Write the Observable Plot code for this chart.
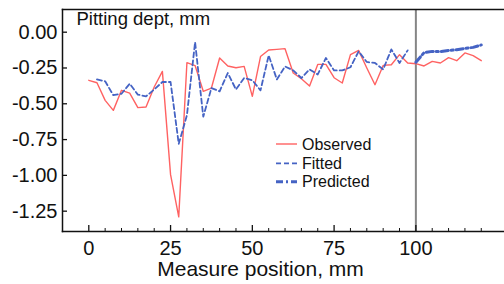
<!DOCTYPE html>
<html>
<head>
<meta charset="utf-8">
<script src="https://cdn.jsdelivr.net/npm/d3@7"></script>
<script src="https://cdn.jsdelivr.net/npm/@observablehq/plot@0.6"></script>
<style>
  html, body { margin: 0; padding: 0; background: #fff; }
  #wrap { position: relative; width: 504px; height: 284px; font-family: "Liberation Sans", Arial, sans-serif; }
  #legend { position: absolute; left: 0; top: 0; pointer-events: none; }
</style>
</head>
<body>
<div id="wrap"></div>
<script>
// ---- data ----
const obsX = [0,2.5,5,7.5,10,12.5,15,17.5,20,22.5,25,27.5,30,32.5,35,37.5,40,42.5,45,47.5,50,52.5,55,57.5,60,62.5,65,67.5,70,72.5,75,77.5,80,82.5,85,87.5,90,92.5,95,97.5,100,102.5,105,107.5,110,112.5,115,117.5,120];
const obsY = [-0.336,-0.353,-0.476,-0.546,-0.406,-0.425,-0.527,-0.522,-0.383,-0.274,-0.995,-1.29,-0.213,-0.233,-0.413,-0.39,-0.18,-0.236,-0.248,-0.239,-0.448,-0.17,-0.124,-0.12,-0.115,-0.285,-0.325,-0.376,-0.225,-0.225,-0.318,-0.355,-0.157,-0.127,-0.25,-0.367,-0.232,-0.227,-0.157,-0.215,-0.22,-0.236,-0.204,-0.215,-0.178,-0.199,-0.145,-0.164,-0.199];
const fitX = [2.5,5,7.5,10,12.5,15,17.5,20,22.5,25,27.5,30,32.5,35,37.5,40,42.5,45,47.5,50,52.5,55,57.5,60,62.5,65,67.5,70,72.5,75,77.5,80,82.5,85,87.5,90,92.5,95,97.5];
const fitY = [-0.33,-0.343,-0.44,-0.43,-0.36,-0.436,-0.448,-0.40,-0.348,-0.348,-0.78,-0.58,-0.07,-0.59,-0.39,-0.413,-0.285,-0.40,-0.32,-0.336,-0.406,-0.162,-0.33,-0.239,-0.267,-0.32,-0.26,-0.295,-0.18,-0.267,-0.267,-0.245,-0.134,-0.208,-0.215,-0.26,-0.12,-0.215,-0.127];
const predX = [100,102.5,105,107.5,110,112.5,115,117.5,120];
const predY = [-0.21,-0.143,-0.134,-0.136,-0.128,-0.122,-0.113,-0.106,-0.089];
const splitAt = [100];
const yTicks = [0,-0.25,-0.5,-0.75,-1.0,-1.25];
const xTicks = [0,25,50,75,100];
const xMinorTicks = [5,10,15,20,30,35,40,45,55,60,65,70,80,85,90,95,105,110,115,120];
const seriesNames = ["Observed","Fitted","Predicted"];
const titleText = "Pitting dept, mm";
const xLabel = "Measure position, mm";

// ---- build ----
const W = 504, H = 284;
const mL = 62, mR = 0, mT = 9, mB = 53;
const plotW = W - mL - mR, plotH = H - mT - mB;
const RED = "#ff6262", BLUE = "#4563c4";
const FONT = "Liberation Sans, Arial, sans-serif";

const obs = obsX.map((x, i) => ({x, y: obsY[i]}));
const fit = fitX.map((x, i) => ({x, y: fitY[i]}));
const pred = predX.map((x, i) => ({x, y: predY[i]}));

const chart = Plot.plot({
  width: W, height: H,
  marginLeft: mL, marginRight: mR, marginTop: mT, marginBottom: mB,
  style: {fontFamily: FONT, background: "white", overflow: "visible"},
  x: {domain: [-8.04, 127.1], axis: null},
  y: {domain: [-1.392, 0.1585], axis: null},
  marks: [
    Plot.ruleX(splitAt, {stroke: "#858585", strokeWidth: 2}),
    Plot.line(obs, {x: "x", y: "y", stroke: RED, strokeWidth: 1.4}),
    Plot.line(fit, {x: "x", y: "y", stroke: BLUE, strokeWidth: 1.8, strokeDasharray: "5,3"}),
    Plot.line(pred, {x: "x", y: "y", stroke: BLUE, strokeWidth: 3, strokeDasharray: "7,3,2,3"}),
    Plot.frame({anchor: "left", stroke: "#111", strokeWidth: 1.5}),
    Plot.frame({anchor: "bottom", stroke: "#111", strokeWidth: 1.5}),
    Plot.frame({anchor: "top", stroke: "#111", strokeWidth: 1.5}),
    Plot.tickY(yTicks, {y: d => d, stroke: "#111", strokeWidth: 1.3, insetRight: plotW - 5}),
    Plot.tickX(xTicks, {x: d => d, stroke: "#111", strokeWidth: 1.3, insetTop: plotH - 6}),
    Plot.tickX(xMinorTicks, {x: d => d, stroke: "#111", strokeWidth: 1, insetTop: plotH - 3}),
    Plot.text(yTicks, {y: d => d, text: d => d.toFixed(2), frameAnchor: "left", textAnchor: "end", dx: -5, lineAnchor: "middle", fontSize: 20, fill: "#111"}),
    Plot.text(xTicks, {x: d => d, text: d => String(d), frameAnchor: "bottom", lineAnchor: "middle", dy: 17, fontSize: 20, fill: "#111"}),
    Plot.text([xLabel], {text: d => d, frameAnchor: "bottom", lineAnchor: "middle", dx: -23, dy: 38, fontSize: 21, fill: "#111"}),
    Plot.text([titleText], {text: d => d, frameAnchor: "top-left", textAnchor: "start", lineAnchor: "middle", dx: 14, dy: 9.5, fontSize: 18.5, fill: "#111"})
  ]
});

const wrap = document.getElementById("wrap");
wrap.appendChild(chart);

// legend overlay
const styles = [
  {stroke: RED, width: 1.4, dash: null},
  {stroke: BLUE, width: 1.8, dash: "5,3"},
  {stroke: BLUE, width: 3, dash: "7,3,2,3"}
];
const rowsY = [144, 163.3, 181.7];
const leg = d3.select(wrap).append("svg")
  .attr("id", "legend").attr("width", W).attr("height", H);
seriesNames.forEach((name, i) => {
  const g = leg.append("g");
  const ln = g.append("line")
    .attr("x1", 276).attr("x2", 297).attr("y1", rowsY[i]).attr("y2", rowsY[i])
    .attr("stroke", styles[i].stroke).attr("stroke-width", styles[i].width);
  if (styles[i].dash) ln.attr("stroke-dasharray", styles[i].dash);
  g.append("text").attr("x", 302).attr("y", rowsY[i] + 5.7)
    .attr("font-family", FONT).attr("font-size", 16).attr("fill", "#111").text(name);
});
</script>
</body>
</html>
